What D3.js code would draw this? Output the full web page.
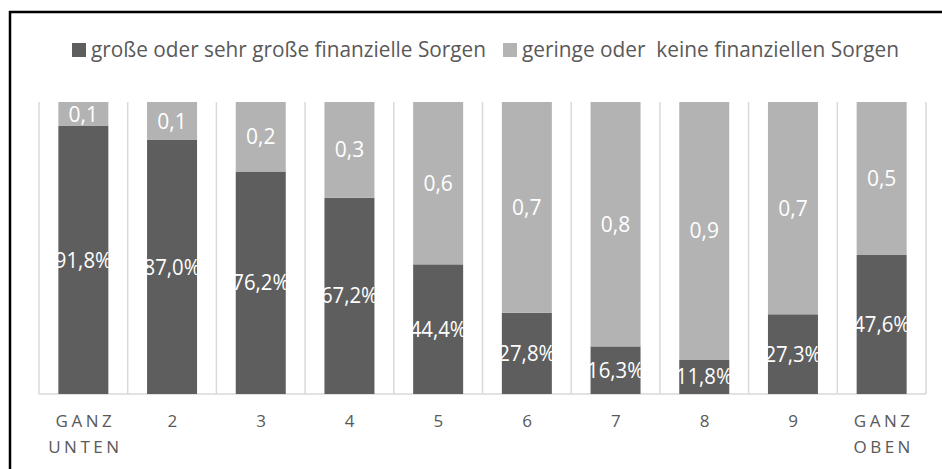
<!DOCTYPE html>
<html>
<head>
<meta charset="utf-8">
<script src="https://cdn.jsdelivr.net/npm/d3@7"></script>
<style>
  body { margin: 0; background: #fff; overflow: hidden; }
  svg { display: block; }
  text { font-family: "Open Sans", Lato, sans-serif; }
</style>
</head>
<body>
<svg id="canvas" width="942" height="469"></svg>
<script>
var width = 942;
var height = 469;

// categories (x axis), two lines each
var categories = ["GANZ UNTEN", "2", "3", "4", "5", "6", "7", "8", "9", "GANZ OBEN"];
// große oder sehr große finanzielle Sorgen (in %)
var darkValues = [91.8, 87.0, 76.2, 67.2, 44.4, 27.8, 16.3, 11.8, 27.3, 47.6];
// geringe oder keine finanziellen Sorgen (in %)
var lightValues = [8.2, 13.0, 23.8, 32.8, 55.6, 72.2, 83.7, 88.2, 72.7, 52.4];
var seriesNames = ["große oder sehr große finanzielle Sorgen", "geringe oder  keine finanziellen Sorgen"];
var colors = ["#5e5e5e", "#b3b3b3"];

var svg = d3.select("#canvas");

// frame: only left and top edges fall inside the picture
svg.append("line")
  .attr("x1", 10).attr("x2", 10)
  .attr("y1", 11).attr("y2", height)
  .attr("stroke", "#000").attr("stroke-width", 2.5);
svg.append("line")
  .attr("x1", 9).attr("x2", width)
  .attr("y1", 12).attr("y2", 12)
  .attr("stroke", "#000").attr("stroke-width", 2.5);

var xScale = d3.scaleBand()
  .domain(categories)
  .range([39, 926]);

var yScale = d3.scaleLinear()
  .domain([0, 100])
  .range([394, 102]);

var barW = 50;

// vertical gridlines at band edges
var edges = categories.map(function(c) { return xScale(c); }).concat([xScale.range()[1]]);
svg.selectAll(".grid")
  .data(edges)
  .enter().append("line")
  .attr("class", "grid")
  .attr("x1", function(d) { return d; })
  .attr("x2", function(d) { return d; })
  .attr("y1", yScale(100))
  .attr("y2", yScale(0))
  .attr("stroke", "#d9d9d9")
  .attr("stroke-width", 1.5);

svg.append("line")
  .attr("x1", xScale.range()[0])
  .attr("x2", xScale.range()[1])
  .attr("y1", yScale(0))
  .attr("y2", yScale(0))
  .attr("stroke", "#d9d9d9")
  .attr("stroke-width", 1.5);

var data = categories.map(function(c, i) {
  return {cat: c, dark: darkValues[i], light: lightValues[i]};
});

var series = d3.stack().keys(["dark", "light"])(data);

var groups = svg.selectAll(".series")
  .data(series)
  .enter().append("g")
  .attr("fill", function(d, i) { return colors[i]; });

groups.selectAll("rect")
  .data(function(d) { return d; })
  .enter().append("rect")
  .attr("x", function(d) { return xScale(d.data.cat) + xScale.bandwidth() / 2 - barW / 2; })
  .attr("width", barW)
  .attr("y", function(d) { return yScale(d[1]); })
  .attr("height", function(d) { return yScale(d[0]) - yScale(d[1]); });

// value labels, white (they vanish where they run past the bar)
groups.each(function(s, si) {
  var t = d3.select(this).selectAll("text")
    .data(s)
    .enter().append("text")
    .attr("x", function(d) { return xScale(d.data.cat) + xScale.bandwidth() / 2; })
    .attr("y", function(d) { return (yScale(d[0]) + yScale(d[1])) / 2; })
    .attr("dy", "0.36em")
    .attr("text-anchor", "middle")
    .attr("fill", "#fff")
    .style("font-size", "21px")
    .text(function(d) {
      if (si === 0) return d.data.dark.toFixed(1).replace(".", ",") + "%";
      return (d.data.light / 100).toFixed(1).replace(".", ",");
    });
  if (si === 0) t.attr("textLength", 57).attr("lengthAdjust", "spacingAndGlyphs");
});

// x axis labels
var xl = svg.selectAll(".xlab")
  .data(categories)
  .enter().append("text")
  .attr("class", "xlab")
  .attr("text-anchor", "middle")
  .attr("fill", "#595959")
  .style("font-size", "17px")
  .style("letter-spacing", "3.5px")
  .attr("y", 427);

xl.selectAll("tspan")
  .data(function(d) {
    return d.split(" ").map(function(t) { return {t: t, c: d}; });
  })
  .enter().append("tspan")
  .attr("x", function(d) { return xScale(d.c) + xScale.bandwidth() / 2 + 2; })
  .attr("dy", function(d, i) { return i === 0 ? 0 : 26; })
  .text(function(d) { return d.t; });

// legend
var legendX = [72, 503];
var legendW = [395, 377];
var legend = svg.selectAll(".legend")
  .data(seriesNames)
  .enter().append("g")
  .attr("transform", function(d, i) { return "translate(" + legendX[i] + ",0)"; });

legend.append("rect")
  .attr("x", 0)
  .attr("y", 43)
  .attr("width", 14)
  .attr("height", 14)
  .attr("fill", function(d, i) { return colors[i]; });

legend.append("text")
  .attr("x", 19)
  .attr("y", 57)
  .attr("fill", "#595959")
  .style("font-size", "21px")
  .style("white-space", "pre")
  .attr("textLength", function(d, i) { return legendW[i]; })
  .attr("lengthAdjust", "spacingAndGlyphs")
  .text(function(d) { return d; });
</script>
</body>
</html>
